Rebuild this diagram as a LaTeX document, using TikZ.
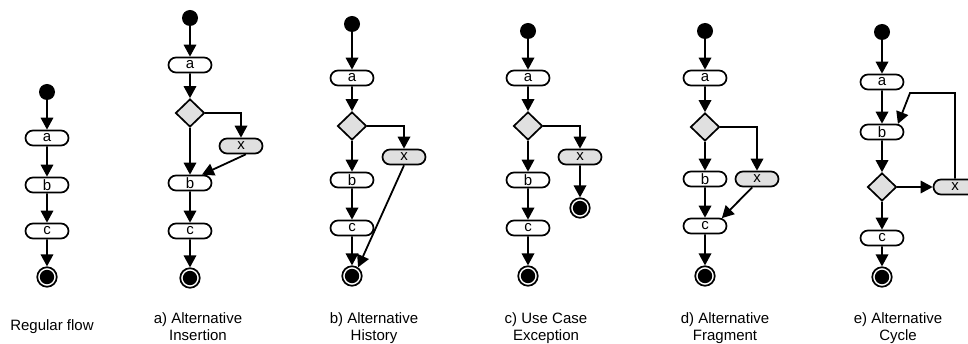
\documentclass[tikz,border=0pt]{standalone}
\usepackage{fontspec}
\setmainfont{Liberation Sans}
\usetikzlibrary{arrows.meta,shapes.geometric,shapes.misc}
\definecolor{shade}{HTML}{E0E0E0}

\begin{document}
\begin{tikzpicture}[x=1pt,y=-1pt,>={Triangle[length=12pt,width=12.5pt]},
 act/.style={draw,rounded rectangle,line width=1.7pt,minimum width=43pt,minimum height=15pt,inner sep=0pt,font=\fontsize{15}{17}\selectfont},
 alt/.style={act,fill=shade},
 dec/.style={draw,diamond,fill=shade,line width=1.7pt,minimum width=29pt,minimum height=28pt,inner sep=0pt},
 ini/.style={circle,fill,minimum size=16pt,inner sep=0pt},
 fin/.style={circle,draw,line width=1.7pt,minimum size=19.5pt,inner sep=0pt,
   path picture={\fill (path picture bounding box.center) circle (7.2pt);}},
 lbl/.style={align=center,anchor=north,inner sep=0pt,font=\fontsize{15}{17}\selectfont},
 a/.style={->,line width=1.8pt}]
\useasboundingbox (0,0) rectangle (968,344);
% regular flow
\node[ini] (s0) at (47,92) {};
\node[act] (a0) at (47,138) {a};
\node[act] (b0) at (47,185) {b};
\node[act] (c0) at (47,231) {c};
\node[fin] (f0) at (47,277) {};
\draw[a] (s0)--(a0);\draw[a] (a0)--(b0);\draw[a] (b0)--(c0);\draw[a] (c0)--(f0);
\node[lbl] (t0) at (52,319) {Regular flow};
% a) insertion
\node[ini] (s1) at (190,18) {};
\node[act] (a1) at (190,65) {a};
\node[dec] (d1) at (190,113) {};
\node[alt] (x1) at (241,146) {x};
\node[act] (b1) at (190,183) {b};
\node[act] (c1) at (190,231) {c};
\node[fin] (f1) at (190,278) {};
\draw[a] (s1)--(a1);\draw[a] (a1)--(d1);\draw[a] (d1)--(b1);
\draw[a] (d1.east) -| (x1.north);\draw[a] (x1.-60)--(b1.35);
\draw[a] (b1)--(c1);\draw[a] (c1)--(f1);
\node[lbl] (t1) at (198,312) {a) Alternative\\Insertion};
% b) history
\node[ini] (s2) at (352,24) {};
\node[act] (a2) at (352,78) {a};
\node[dec] (d2) at (352,126) {};
\node[alt] (x2) at (404,157) {x};
\node[act] (b2) at (352,180) {b};
\node[act] (c2) at (352,228) {c};
\node[fin] (f2) at (352,276) {};
\draw[a] (s2)--(a2);\draw[a] (a2)--(d2);\draw[a] (d2)--(b2);
\draw[a] (d2.east) -| (x2.north);\draw[a] (x2.south)--(f2.55);
\draw[a] (b2)--(c2);\draw[a] (c2)--(f2);
\node[lbl] (t2) at (374,312) {b) Alternative\\History};
% c) exception
\node[ini] (s3) at (528,31) {};
\node[act] (a3) at (528,78) {a};
\node[dec] (d3) at (528,126) {};
\node[alt] (x3) at (580,157) {x};
\node[fin] (g3) at (580,208) {};
\node[act] (b3) at (528,180) {b};
\node[act] (c3) at (528,228) {c};
\node[fin] (f3) at (528,276) {};
\draw[a] (s3)--(a3);\draw[a] (a3)--(d3);\draw[a] (d3)--(b3);
\draw[a] (d3.east) -| (x3.north);\draw[a] (x3)--(g3);
\draw[a] (b3)--(c3);\draw[a] (c3)--(f3);
\node[lbl] (t3) at (546,312) {c) Use Case\\Exception};
% d) fragment
\node[ini] (s4) at (705,31) {};
\node[act] (a4) at (705,78) {a};
\node[dec] (d4) at (705,127) {};
\node[act] (b4) at (705,179) {b};
\node[alt] (x4) at (757,179) {x};
\node[act] (c4) at (705,226) {c};
\node[fin] (f4) at (705,276) {};
\draw[a] (s4)--(a4);\draw[a] (a4)--(d4);\draw[a] (d4)--(b4);
\draw[a] (d4.east) -| (x4.north);\draw[a] (x4.-120)--(c4.25);
\draw[a] (b4)--(c4);\draw[a] (c4)--(f4);
\node[lbl] (t4) at (725,312) {d) Alternative\\Fragment};
% e) cycle
\node[ini] (s5) at (882,32) {};
\node[act] (a5) at (882,82) {a};
\node[act] (b5) at (882,132) {b};
\node[dec] (d5) at (882,187) {};
\node[alt] (x5) at (955,187) {x};
\node[act] (c5) at (882,238) {c};
\node[fin] (f5) at (882,277) {};
\coordinate (lp) at (910,93);
\draw[a] (s5)--(a5);\draw[a] (a5)--(b5);\draw[a] (b5)--(d5);
\draw[a] (d5)--(x5);\draw[a] (x5.north) |- (lp) -- (b5.27);
\draw[a] (d5)--(c5);\draw[a] (c5)--(f5);
\node[lbl] (t5) at (898,312) {e) Alternative\\Cycle};
\end{tikzpicture}
\end{document}
